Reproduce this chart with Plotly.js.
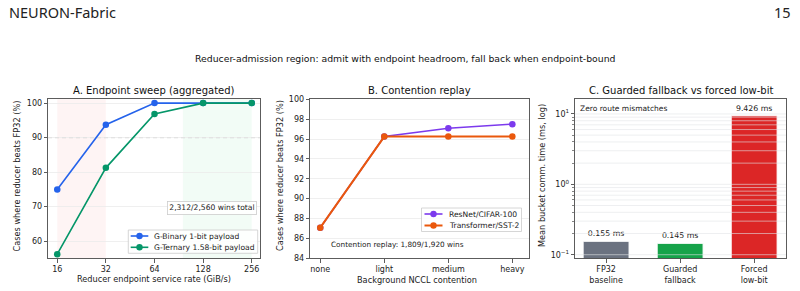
<!DOCTYPE html>
<html>
<head>
<meta charset="utf-8">
<script src="https://cdn.plot.ly/plotly-3.0.1.min.js"></script>
<style>
  html, body { margin: 0; padding: 0; background: #fff; }
  #chart { width: 800px; height: 291px; }
</style>
</head>
<body>
<div id="chart"></div>
<script>
// Panel A: endpoint service-rate sweep (share of cases where the reducer beats FP32)
const rates = [16, 32, 64, 128, 256];
const rateLabels = ['16', '32', '64', '128', '256'];
const payloadNames = ['G-Binary 1-bit payload', 'G-Ternary 1.58-bit payload'];
const binaryPct = [75.0, 93.75, 100.0, 100.0, 100.0];
const ternaryPct = [56.25, 81.25, 96.875, 100.0, 100.0];
const fallbackBand = [16, 32];
const admitBand = [96, 256];
const targetPct = 90;

// Panel B: contention replay
const contention = ['none', 'light', 'medium', 'heavy'];
const workloadNames = ['ResNet/CIFAR-100', 'Transformer/SST-2'];
const resnetPct = [87.08, 96.25, 97.08, 97.5];
const transformerPct = [87.08, 96.25, 96.25, 96.25];

// Panel C: mean bucket communication time (ms)
const methods = ['FP32<br>baseline', 'Guarded<br>fallback', 'Forced<br>low-bit'];
const commMs = [0.155, 0.145, 9.426];
const barColors = ['#6b7280', '#16a34a', '#dc2626'];
const logTickVals = [0.1, 1, 10];
const logTickText = ['10<sup>\u22121</sup>', '10<sup>0</sup>', '10<sup>1</sup>'];

const FONT = 'DejaVu Sans, sans-serif';
const W = 800, H = 291;
const px = x => x / W;
const py = y => 1 - y / H;

const COLORS = {binary: '#2563eb', ternary: '#059669', resnet: '#7c3aed', transformer: '#ea580c'};

// minor tick / grid positions for the log axis (2..9 per decade)
const minorVals = [];
[0.1, 1].forEach(d => { for (let k = 2; k <= 9; k++) minorVals.push(+(k * d).toFixed(3)); });
const cGrid = logTickVals.concat(minorVals);

const traces = [
  {x: rates, y: binaryPct, name: payloadNames[0], mode: 'lines+markers',
   line: {color: COLORS.binary, width: 1.6}, marker: {color: COLORS.binary, size: 6.5},
   xaxis: 'x', yaxis: 'y', showlegend: false},
  {x: rates, y: ternaryPct, name: payloadNames[1], mode: 'lines+markers',
   line: {color: COLORS.ternary, width: 1.6}, marker: {color: COLORS.ternary, size: 6.5},
   xaxis: 'x', yaxis: 'y', showlegend: false},
  {x: contention, y: resnetPct, name: workloadNames[0], mode: 'lines+markers',
   line: {color: COLORS.resnet, width: 1.6}, marker: {color: COLORS.resnet, size: 6.5},
   xaxis: 'x2', yaxis: 'y2', showlegend: false},
  {x: contention, y: transformerPct, name: workloadNames[1], mode: 'lines+markers',
   line: {color: COLORS.transformer, width: 2}, marker: {color: COLORS.transformer, size: 6.5},
   xaxis: 'x2', yaxis: 'y2', showlegend: false},
  {type: 'bar', x: methods, y: commMs, width: 0.62, showlegend: false,
   marker: {color: barColors, line: {color: '#ffffff', width: 1}},
   texttemplate: '%{y:.3f} ms', textposition: 'outside', cliponaxis: false,
   textfont: {family: FONT, size: 7.8, color: '#222'},
   xaxis: 'x3', yaxis: 'y3', hoverinfo: 'skip'}
];

const axisBase = {
  showline: true, mirror: true, linecolor: '#333', linewidth: 0.8,
  ticks: 'outside', ticklen: 3.5, tickwidth: 0.8, tickcolor: '#333',
  tickfont: {family: FONT, size: 8, color: '#222'},
  zeroline: false, fixedrange: true
};

const yDom = [py(258.3), py(99.3)];

// compact boxed legend: frame, line sample with marker, label
function legendBox(box, rowsY, entries) {
  const shapes = [{
    type: 'rect', layer: 'above', xref: 'paper', yref: 'paper',
    x0: px(box.x0), x1: px(box.x1), y0: py(box.y1), y1: py(box.y0),
    fillcolor: 'rgba(255,255,255,0.85)', line: {color: '#cccccc', width: 0.8}
  }];
  const notes = [];
  entries.forEach((e, i) => {
    const y = py(rowsY[i]);
    shapes.push({type: 'line', layer: 'above', xref: 'paper', yref: 'paper',
      x0: px(box.lx0), x1: px(box.lx1), y0: y, y1: y,
      line: {color: e.color, width: e.width}});
    const mx = px((box.lx0 + box.lx1) / 2);
    shapes.push({type: 'circle', layer: 'above', xref: 'paper', yref: 'paper',
      xsizemode: 'pixel', ysizemode: 'pixel', xanchor: mx, yanchor: y,
      x0: -3.2, x1: 3.2, y0: -3.2, y1: 3.2,
      fillcolor: e.color, line: {width: 0}});
    notes.push({text: e.name, x: px(box.tx), y: y, xref: 'paper', yref: 'paper',
      xanchor: 'left', yanchor: 'middle', showarrow: false,
      font: {family: FONT, size: 7.6, color: '#222'}});
  });
  return {shapes, notes};
}

const legA = legendBox({x0: 128.3, x1: 257.7, y0: 230, y1: 253.3, lx0: 130.7, lx1: 148.3, tx: 151.5},
  [236, 247.3],
  [{name: payloadNames[0], color: COLORS.binary, width: 1.6},
   {name: payloadNames[1], color: COLORS.ternary, width: 1.6}]);
const legB = legendBox({x0: 421.5, x1: 521.5, y0: 208, y1: 231.5, lx0: 424.5, lx1: 442.5, tx: 447},
  [214, 225.5],
  [{name: workloadNames[0], color: COLORS.resnet, width: 1.6},
   {name: workloadNames[1], color: COLORS.transformer, width: 2}]);

const layout = {
  width: W, height: H,
  margin: {l: 0, r: 0, t: 0, b: 0},
  paper_bgcolor: '#fff', plot_bgcolor: '#fff',
  font: {family: FONT, color: '#222'},
  showlegend: false,
  xaxis: Object.assign({}, axisBase, {
    domain: [px(48), px(260)], anchor: 'y', type: 'log',
    range: [Math.log10(16) - 0.19 * Math.log10(2), Math.log10(256) + 0.17 * Math.log10(2)],
    tickvals: rates, ticktext: rateLabels, showgrid: false
  }),
  yaxis: Object.assign({}, axisBase, {
    domain: yDom, anchor: 'x', range: [55.05, 101.1], tick0: 0, dtick: 10,
    showgrid: true, gridcolor: '#ebebeb', gridwidth: 0.8
  }),
  xaxis2: Object.assign({}, axisBase, {
    domain: [px(310), px(529)], anchor: 'y2', type: 'category',
    range: [-0.16, 3.26], showgrid: false
  }),
  yaxis2: Object.assign({}, axisBase, {
    domain: yDom, anchor: 'x2', range: [84, 100], dtick: 2,
    showgrid: true, gridcolor: '#ebebeb', gridwidth: 0.8
  }),
  xaxis3: Object.assign({}, axisBase, {
    domain: [px(575), px(786)], anchor: 'y3', type: 'category',
    range: [-0.42, 2.43], showgrid: false
  }),
  yaxis3: Object.assign({}, axisBase, {
    domain: yDom, anchor: 'x3', type: 'log', range: [-1.051, 1.208],
    tickvals: logTickVals, ticktext: logTickText, showgrid: false,
    minor: {tickvals: minorVals, ticks: 'outside', ticklen: 2, tickwidth: 0.6,
            tickcolor: '#333', showgrid: false}
  }),
  shapes: [
    // fallback (endpoint-bound) region
    {type: 'rect', layer: 'below', xref: 'x', yref: 'y domain',
     x0: fallbackBand[0], x1: fallbackBand[1], y0: 0, y1: 1,
     fillcolor: 'rgba(239,68,68,0.06)', line: {width: 0}},
    // admit region
    {type: 'rect', layer: 'below', xref: 'x', yref: 'y domain',
     x0: admitBand[0], x1: admitBand[1], y0: 0, y1: 1,
     fillcolor: 'rgba(34,197,94,0.06)', line: {width: 0}},
    // 90 % target line
    {type: 'line', layer: 'below', xref: 'x domain', yref: 'y',
     x0: 0, x1: 1, y0: targetPct, y1: targetPct,
     line: {color: '#aaaaaa', width: 0.8, dash: '4px,3px'}}
  ].concat(cGrid.map(v => ({
    // log-axis grid drawn over the bars
    type: 'line', layer: 'above', xref: 'x3 domain', yref: 'y3',
    x0: 0, x1: 1, y0: v, y1: v,
    line: {color: 'rgba(226,228,232,0.75)', width: 0.8}
  }))).concat(legA.shapes, legB.shapes),
  annotations: [
    {text: 'NEURON-Fabric', x: px(7), y: py(12.5), xref: 'paper', yref: 'paper',
     xanchor: 'left', yanchor: 'middle', showarrow: false,
     font: {family: 'Noto Sans, sans-serif', size: 14.5, color: '#222'}},
    {text: '15', x: px(793), y: py(12.5), xref: 'paper', yref: 'paper',
     xanchor: 'right', yanchor: 'middle', showarrow: false,
     font: {family: 'Noto Sans, sans-serif', size: 14.5, color: '#222'}},
    {text: 'Reducer-admission region: admit with endpoint headroom, fall back when endpoint-bound',
     x: px(405), y: py(59), xref: 'paper', yref: 'paper', xanchor: 'center', yanchor: 'middle',
     showarrow: false, font: {family: FONT, size: 9.3, color: '#111'}},
    {text: 'A. Endpoint sweep (aggregated)', x: px(154), y: py(90), xref: 'paper', yref: 'paper',
     xanchor: 'center', yanchor: 'middle', showarrow: false, font: {family: FONT, size: 10, color: '#111'}},
    {text: 'B. Contention replay', x: px(419.5), y: py(90), xref: 'paper', yref: 'paper',
     xanchor: 'center', yanchor: 'middle', showarrow: false, font: {family: FONT, size: 10, color: '#111'}},
    {text: 'C. Guarded fallback vs forced low-bit', x: px(680.5), y: py(90), xref: 'paper', yref: 'paper',
     xanchor: 'center', yanchor: 'middle', showarrow: false, font: {family: FONT, size: 10, color: '#111'}},
    {text: 'Reducer endpoint service rate (GiB/s)', x: px(154), y: py(279), xref: 'paper', yref: 'paper',
     xanchor: 'center', yanchor: 'middle', showarrow: false, font: {family: FONT, size: 8.2, color: '#222'}},
    {text: 'Background NCCL contention', x: px(416.5), y: py(280), xref: 'paper', yref: 'paper',
     xanchor: 'center', yanchor: 'middle', showarrow: false, font: {family: FONT, size: 8.2, color: '#222'}},
    {text: 'Cases where reducer beats FP32 (%)', x: px(16.5), y: py(176), xref: 'paper', yref: 'paper',
     xanchor: 'center', yanchor: 'middle', textangle: -90, showarrow: false,
     font: {family: FONT, size: 8.2, color: '#222'}},
    {text: 'Cases where reducer beats FP32 (%)', x: px(280), y: py(176), xref: 'paper', yref: 'paper',
     xanchor: 'center', yanchor: 'middle', textangle: -90, showarrow: false,
     font: {family: FONT, size: 8.2, color: '#222'}},
    {text: 'Mean bucket comm. time (ms, log)', x: px(542), y: py(176), xref: 'paper', yref: 'paper',
     xanchor: 'center', yanchor: 'middle', textangle: -90, showarrow: false,
     font: {family: FONT, size: 8.2, color: '#222'}},
    {text: '2,312/2,560 wins total', x: px(256.7), y: py(208.3), xref: 'paper', yref: 'paper',
     xanchor: 'right', yanchor: 'middle', showarrow: false, bgcolor: 'rgba(255,255,255,0.9)',
     bordercolor: '#cccccc', borderwidth: 0.8, borderpad: 1.5,
     font: {family: FONT, size: 7.6, color: '#222'}},
    {text: 'Contention replay: 1,809/1,920 wins', x: px(329), y: py(244.7), xref: 'paper', yref: 'paper',
     xanchor: 'left', yanchor: 'middle', showarrow: false, font: {family: FONT, size: 7.3, color: '#222'}},
    {text: 'Zero route mismatches', x: px(578), y: py(108), xref: 'paper', yref: 'paper',
     xanchor: 'left', yanchor: 'middle', showarrow: false, font: {family: FONT, size: 7.5, color: '#222'}}
  ].concat(legA.notes, legB.notes)
};

Plotly.newPlot('chart', traces, layout, {staticPlot: true, displayModeBar: false});
</script>
</body>
</html>
